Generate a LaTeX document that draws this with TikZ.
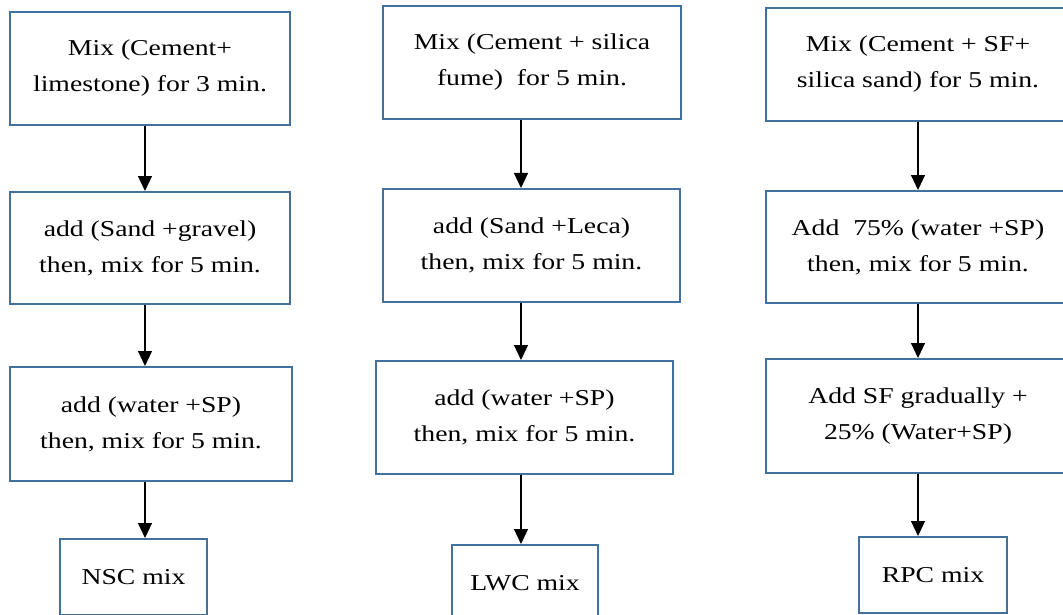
\documentclass[tikz,border=0pt]{standalone}
\usepackage{fontspec}
\setmainfont[FakeStretch=1.22]{Liberation Serif}
\usetikzlibrary{arrows.meta}

\definecolor{boxblue}{RGB}{65,113,156}

\tikzset{
    stepbox/.style={draw=boxblue, line width=2pt, fill=white, inner sep=0pt, align=center,
        font=\fontsize{22.7}{36}\selectfont},
    mixbox/.style={stepbox, minimum width=147pt, minimum height=76pt},
    arr/.style={line width=1.2pt, -{Triangle[width=14pt,length=15pt]}}
}

\begin{document}
\begin{tikzpicture}[x=1pt, y=-1pt]
            \useasboundingbox (0, 0) rectangle (1063, 615);
            \clip (0, 0) rectangle (1063, 615);
            \coordinate (c1) at (145, 0);
            \coordinate (c2) at (521, 0);
            \coordinate (c3) at (918, 0);
            \node[stepbox, minimum width=280pt, minimum height=113pt] (nsc1) at (150, 68.5) {Mix (Cement+\\limestone) for 3 min.};
            \node[stepbox, minimum width=280pt, minimum height=112pt] (nsc2) at (150, 248) {add (Sand +gravel)\\then, mix for 5 min.};
            \node[stepbox, minimum width=282pt, minimum height=114pt] (nsc3) at (151, 424) {add (water +SP)\\then, mix for 5 min.};
            \node[mixbox] (nsc4) at (133.5, 577) {NSC mix};
            \node[stepbox, minimum width=298pt, minimum height=113pt] (lwc1) at (532, 62.5) {Mix (Cement + silica\\fume)\ \ for 5 min.};
            \node[stepbox, minimum width=297pt, minimum height=113pt] (lwc2) at (531.5, 245.5) {add (Sand +Leca)\\then, mix for 5 min.};
            \node[stepbox, minimum width=297pt, minimum height=113pt] (lwc3) at (524.5, 417.5) {add (water +SP)\\then, mix for 5 min.};
            \node[mixbox, minimum width=146pt] (lwc4) at (525, 583) {LWC mix};
            \node[stepbox, minimum width=304pt, minimum height=113pt] (rpc1) at (918, 64.5) {Mix (Cement + SF+\\silica sand) for 5 min.};
            \node[stepbox, minimum width=304pt, minimum height=112pt] (rpc2) at (918, 247) {Add\ \ 75\% (water +SP)\\then, mix for 5 min.};
            \node[stepbox, minimum width=304pt, minimum height=114pt] (rpc3) at (918, 416) {Add SF gradually +\\25\% (Water+SP)};
            \node[mixbox, minimum width=148pt] (rpc4) at (933, 575) {RPC mix};
            \draw[arr] (nsc1.south -| c1)--(nsc2.north -| c1);
            \draw[arr] (nsc2.south -| c1)--(nsc3.north -| c1);
            \draw[arr] (nsc3.south -| c1)--(nsc4.north -| c1);
            \draw[arr] (lwc1.south -| c2)--(lwc2.north -| c2);
            \draw[arr] (lwc2.south -| c2)--(lwc3.north -| c2);
            \draw[arr] (lwc3.south -| c2)--(lwc4.north -| c2);
            \draw[arr] (rpc1.south -| c3)--(rpc2.north -| c3);
            \draw[arr] (rpc2.south -| c3)--(rpc3.north -| c3);
            \draw[arr] (rpc3.south -| c3)--(rpc4.north -| c3);
        \end{tikzpicture}
\end{document}
